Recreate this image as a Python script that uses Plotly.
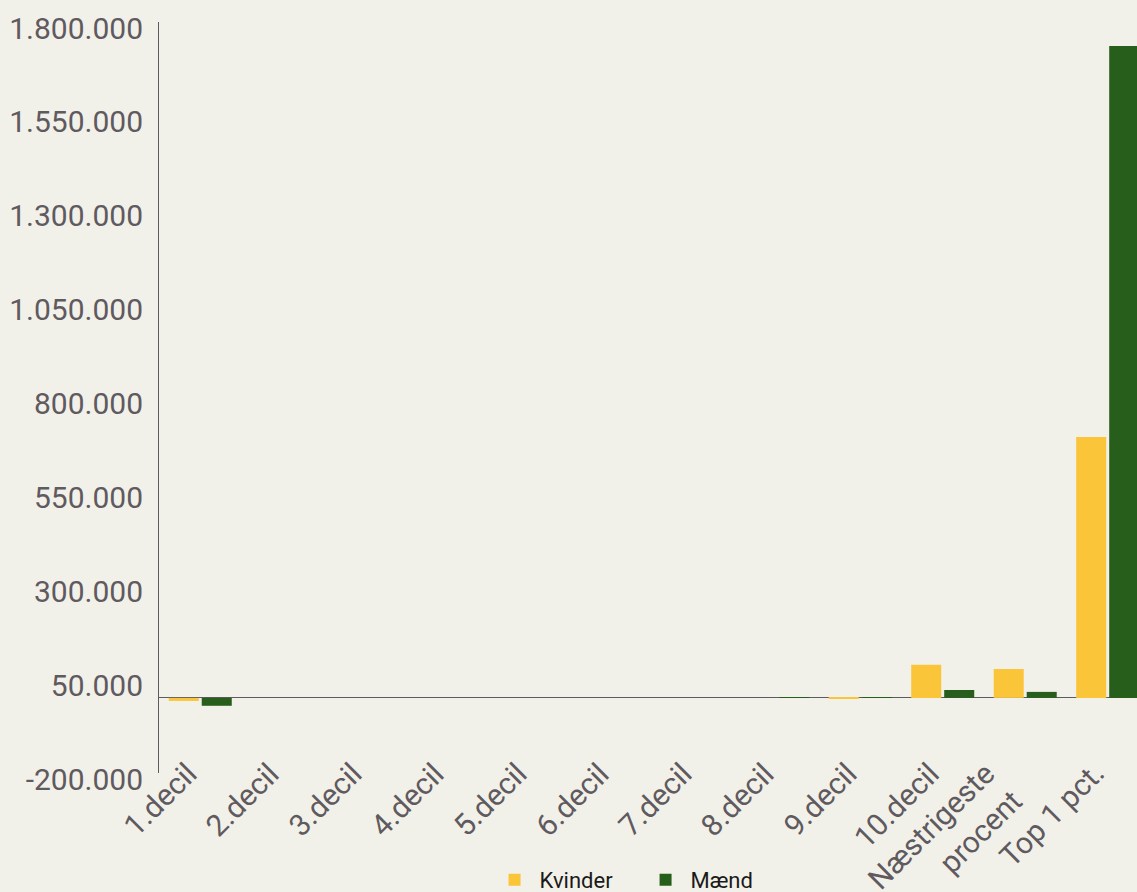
import plotly.graph_objects as go

categories = ["1.decil", "2.decil", "3.decil", "4.decil", "5.decil", "6.decil",
              "7.decil", "8.decil", "9.decil", "10.decil", "Næstrigeste<br>procent", "Top 1 pct."]
kvinder = [-8000, 0, 0, 0, 0, 0, 0, 0, -2000, 88000, 77000, 695000]
maend = [-21000, 0, 0, 0, 0, 0, 0, 1500, 1500, 21000, 16000, 1736000]
y_ticks = [-200000, 50000, 300000, 550000, 800000, 1050000, 1300000, 1550000, 1800000]
y_tick_text = [f"{v:,}".replace(",", ".") for v in y_ticks]

BG = "#F2F1E9"
TXT = "#5F5A60"

fig = go.Figure()
fig.add_trace(go.Bar(x=categories, y=kvinder, name="Kvinder", marker_color="#FBC53A",
                     marker_line_width=0))
fig.add_trace(go.Bar(x=categories, y=maend, name="Mænd", marker_color="#275E1B",
                     marker_line_width=0))

# category labels, rotated, placed just under the axis
for c in categories:
    fig.add_annotation(x=c, xref="x", y=0, yref="paper", text=c, showarrow=False,
                       textangle=-45, xanchor="right", yanchor="top",
                       xshift=6, yshift=20, align="right",
                       font=dict(family="Roboto", size=30, color=TXT))

fig.update_layout(
    width=1137, height=892,
    paper_bgcolor=BG, plot_bgcolor=BG,
    margin=dict(l=159, r=0, t=22, b=119, autoexpand=False),
    barmode="group", bargap=0.2, bargroupgap=0.09,
    font=dict(family="Roboto", color=TXT),
    legend=dict(orientation="h", x=0.338, xanchor="left", y=-0.1425, yanchor="middle",
                font=dict(size=22, color="#1a1a1a"), itemwidth=40, entrywidth=96,
                itemsizing="constant"),
    showlegend=True,
)
fig.update_xaxes(
    range=[-0.5, 11.355], showgrid=False, showline=False, ticks="",
    showticklabels=False, automargin=False,
)
fig.update_yaxes(
    range=[-200000, 1800000], tickvals=y_ticks, ticktext=y_tick_text,
    showgrid=False, showline=True, linecolor=TXT, linewidth=1,
    zeroline=True, zerolinecolor=TXT, zerolinewidth=1,
    tickfont=dict(size=30, color=TXT), ticks="", ticklabelstandoff=9,
    ticklabelshift=6, automargin=False,
)

fig.write_html("out.html", config={"displayModeBar": False},
               post_script="document.body.style.margin='0';")
